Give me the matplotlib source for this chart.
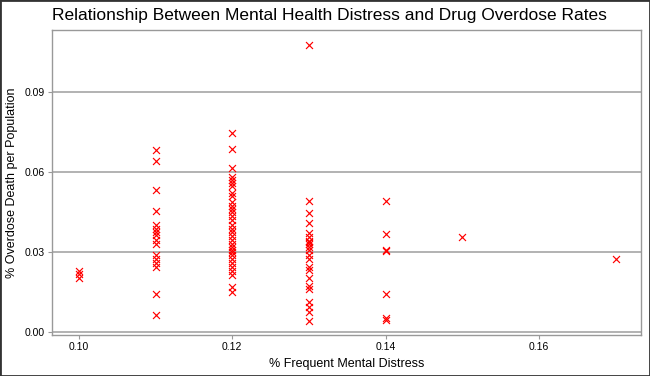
import matplotlib.pyplot as plt
from matplotlib.patches import Rectangle

# % frequent mental distress (x) and % overdose death per population (y)
x_010 = [0.10, 0.10, 0.10]
y_010 = [0.0229, 0.0217, 0.0202]

x_011 = [0.11] * 16
y_011 = [0.0684, 0.0643, 0.0534, 0.0456, 0.0403, 0.0388, 0.0377, 0.0366,
         0.0347, 0.0332, 0.0291, 0.0273, 0.0258, 0.0243, 0.0142, 0.0064]

x_012 = [0.12] * 32
y_012 = [0.0747, 0.0687, 0.0616, 0.0583, 0.0572, 0.0560, 0.0549, 0.0523,
         0.0512, 0.0489, 0.0474, 0.0463, 0.0452, 0.0437, 0.0422, 0.0403,
         0.0388, 0.0377, 0.0362, 0.0347, 0.0332, 0.0318, 0.0310, 0.0299,
         0.0288, 0.0273, 0.0258, 0.0243, 0.0228, 0.0213, 0.0168, 0.0149]

x_013 = [0.13] * 22
y_013 = [0.1080, 0.0491, 0.0448, 0.0411, 0.0374, 0.0359, 0.0344, 0.0340,
         0.0330, 0.0321, 0.0310, 0.0291, 0.0273, 0.0243, 0.0235, 0.0205,
         0.0172, 0.0161, 0.0112, 0.0093, 0.0075, 0.0041]

x_014 = [0.14] * 7
y_014 = [0.0491, 0.0370, 0.0310, 0.0304, 0.0142, 0.0052, 0.0047]

x_other = [0.15, 0.17]
y_other = [0.0358, 0.0273]

xs = x_010 + x_011 + x_012 + x_013 + x_014 + x_other
ys = y_010 + y_011 + y_012 + y_013 + y_014 + y_other

xticks = [0.10, 0.12, 0.14, 0.16]
yticks = [0.00, 0.03, 0.06, 0.09]

plt.rcParams['font.family'] = ['Liberation Sans', 'DejaVu Sans']

fig = plt.figure(figsize=(6.5, 3.76), dpi=100)
ax = fig.add_axes([0.08, 0.109, 0.906, 0.81])

ax.scatter(xs, ys, marker='x', color='#ff0000', s=25, linewidths=0.85, zorder=3)

ax.set_xlim(0.0965, 0.1733)
ax.set_ylim(-0.0011, 0.1133)
ax.set_xticks(xticks)
ax.set_xticklabels([f"{t:.2f}" for t in xticks])
ax.set_yticks(yticks)
ax.set_yticklabels([f"{t:.2f}" for t in yticks])
ax.grid(axis='y', color='#adadad', linewidth=1.3)
ax.set_axisbelow(True)
ax.tick_params(labelsize=7.5, color='#999999', length=3, width=0.8, pad=2)

for s in ax.spines.values():
    s.set_color('#999999')
    s.set_linewidth(1.0)

ax.set_xlabel("% Frequent Mental Distress", fontsize=9, labelpad=4)
ax.set_ylabel("% Overdose Death per Population", fontsize=9, labelpad=5)

fig.text(0.08, 0.958, "Relationship Between Mental Health Distress and Drug Overdose Rates",
         fontsize=12.5, ha='left', va='center')

# dark outer frame
fig.patches.append(Rectangle((0, 0), 1, 1, transform=fig.transFigure,
                             fill=False, edgecolor='#333333', linewidth=2))

fig.savefig("out.png", dpi=100)
